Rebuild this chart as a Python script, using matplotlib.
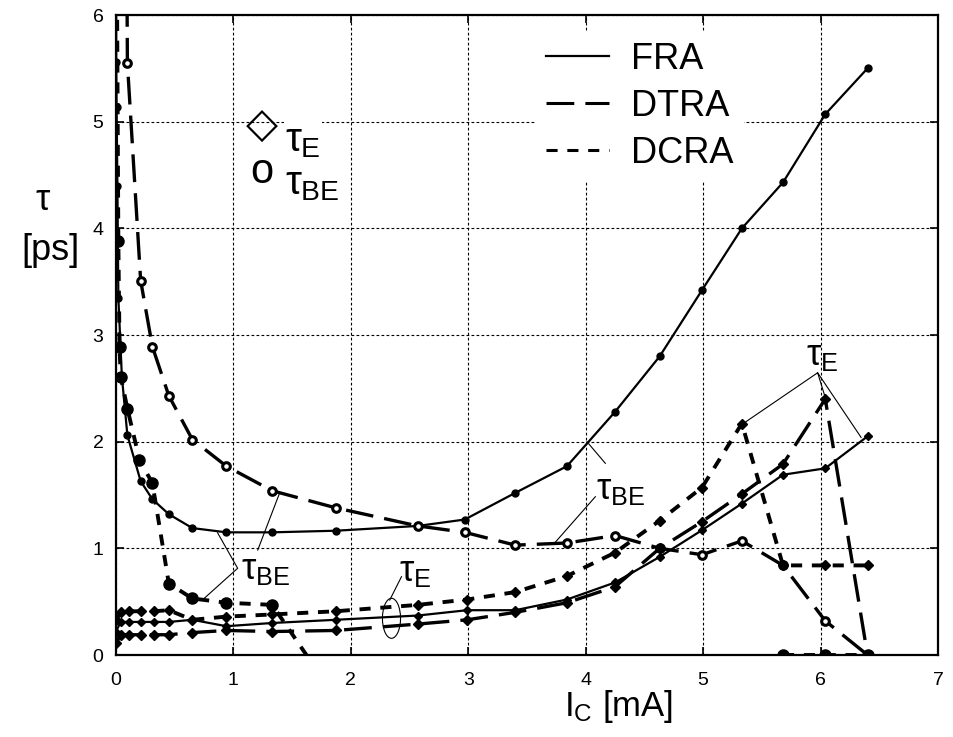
import matplotlib
matplotlib.use('Agg')
import matplotlib.pyplot as plt
import numpy as np
from matplotlib.lines import Line2D
from matplotlib.patches import Ellipse

plt.rcParams['font.family'] = ['Liberation Sans', 'DejaVu Sans']
plt.rcParams['mathtext.fontset'] = 'custom'
plt.rcParams['mathtext.rm'] = 'Liberation Sans'
plt.rcParams['mathtext.it'] = 'Liberation Sans'
plt.rcParams['lines.scale_dashes'] = False

nan = np.nan

# tau_BE [ps] vs I_C [mA]
ic_fra_be = [0.0, 0.002, 0.005, 0.012, 0.02, 0.05, 0.097, 0.21, 0.31, 0.45, 0.65, 0.94, 1.33, 1.87,
             2.57, 2.97, 3.40, 3.84, 4.25, 4.63, 4.99, 5.33, 5.68, 6.04, 6.40]
fra_be = [8.0, 5.56, 5.14, 4.4, 3.35, 2.61, 2.06, 1.63, 1.46, 1.32, 1.19, 1.15, 1.15, 1.165,
          1.21, 1.27, 1.52, 1.77, 2.28, 2.80, 3.42, 4.00, 4.43, 5.07, 5.50]

ic_dtra_be = [0.085, 0.097, 0.21, 0.31, 0.45, 0.65, 0.94, 1.33, 1.87, 2.57, 2.97, 3.40, 3.84,
              4.25, 4.63, 4.99, 5.33, 5.68, 6.04, 6.40]
dtra_be = [8.0, 5.55, 3.51, 2.89, 2.43, 2.02, 1.77, 1.54, 1.38, 1.21, 1.15, 1.03, 1.05,
           1.12, 1.00, 0.94, 1.07, 0.84, 0.32, 0.0]

ic_dcra_be = [0.0, 0.02, 0.03, 0.04, 0.097, 0.2, 0.31, 0.45, 0.65, 0.94, 1.33, 1.87,
              5.33, 5.68, 6.04, 6.40]
dcra_be = [8.0, 3.88, 2.89, 2.61, 2.31, 1.83, 1.61, 0.67, 0.53, 0.49, 0.47, -0.4,
           nan, 0.0, 0.0, 0.0]

# tau_E [ps] vs I_C [mA]
ic_e = [0.0, 0.04, 0.11, 0.21, 0.32, 0.45, 0.65, 0.94, 1.33, 1.87, 2.57, 2.99, 3.40, 3.84,
        4.25, 4.63, 4.99, 5.33, 5.68, 6.04, 6.40]
fra_e = [0.22, 0.31, 0.31, 0.31, 0.31, 0.31, 0.33, 0.27, 0.30, 0.33, 0.37, 0.42, 0.42, 0.52,
         0.68, 0.92, 1.17, 1.42, 1.69, 1.75, 2.05]
dtra_e = [0.11, 0.19, 0.19, 0.19, 0.19, 0.19, 0.21, 0.23, 0.22, 0.23, 0.29, 0.33, 0.40, 0.49,
          0.64, 1.00, 1.25, 1.51, 1.79, 2.40, 0.0]
dcra_e = [0.33, 0.40, 0.41, 0.41, 0.41, 0.42, 0.33, 0.36, 0.38, 0.41, 0.47, 0.52, 0.59, 0.74,
          0.96, 1.26, 1.57, 2.17, 0.84, 0.84, 0.84]

legend_labels = ['FRA', 'DTRA', 'DCRA']

ls_fra = '-'
ls_dtra = (0, (20, 8))
ls_dcra = (0, (8, 7))

fig = plt.figure(figsize=(9.54, 7.37), dpi=100)
ax = fig.add_axes([116 / 954, 82 / 737, 822 / 954, 640 / 737])

# tau_BE curves
ax.plot(ic_fra_be, fra_be, ls=ls_fra, color='k', lw=1.6, marker='o', ms=5)
ax.plot(ic_dtra_be, dtra_be, ls=ls_dtra, color='k', lw=2.4, marker='o', ms=5.5,
        mfc='white', mew=2.2)
ax.plot(ic_dcra_be, dcra_be, ls=ls_dcra, color='k', lw=2.8, marker='o', ms=8)

# tau_E curves
ax.plot(ic_e, fra_e, ls=ls_fra, color='k', lw=1.6, marker='D', ms=4.5)
ax.plot(ic_e, dtra_e, ls=ls_dtra, color='k', lw=2.4, marker='D', ms=5.5)
ax.plot(ic_e, dcra_e, ls=ls_dcra, color='k', lw=2.8, marker='D', ms=5.5)

ax.set_xlim(0, 7)
ax.set_ylim(0, 6)
ax.set_xticks(range(0, 8))
ax.set_yticks(range(0, 7))
ax.set_axisbelow(True)
ax.grid(True, color='k', lw=0.8, ls=(0, (2, 1.6)))
ax.tick_params(direction='in', length=6, width=1.2, top=True, right=True, labelsize=14)
ax.tick_params(axis='x', pad=12)
ax.tick_params(axis='y', pad=9)
for s in ax.spines.values():
    s.set_linewidth(1.6)

ax.set_xlabel(r'I$_{\rm C}$ [mA]', fontsize=25)
ax.xaxis.set_label_coords(0.611, -0.052)
fig.text(43 / 954, 1 - 200 / 737, '\u03c4', fontsize=26, ha='center', va='center')
fig.text(51 / 954, 1 - 251 / 737, '[ps]', fontsize=26, ha='center', va='center')

# legend for methods
handles = [Line2D([], [], color='k', ls=ls_fra, lw=1.6),
           Line2D([], [], color='k', ls=ls_dtra, lw=2.2),
           Line2D([], [], color='k', ls=ls_dcra, lw=2.2)]
leg = ax.legend(handles, legend_labels, loc='upper left', bbox_to_anchor=(0.51, 0.975),
                fontsize=26, frameon=True, framealpha=1, facecolor='white', edgecolor='none',
                handlelength=1.75, handletextpad=0.6, labelspacing=0.33, borderpad=0.3,
                borderaxespad=0, fancybox=False)

# marker key
ax.text(1.238, 4.95, '\u25c7', fontsize=30, ha='center', va='center')
ax.text(1.59, 4.82, r'$\tau_{\rm E}$', fontsize=29, ha='center', va='center',
        bbox=dict(fc='white', ec='none', pad=1))
ax.text(1.238, 4.53, 'o', fontsize=30, ha='center', va='center')
ax.text(1.67, 4.42, r'$\tau_{\rm BE}$', fontsize=29, ha='center', va='center',
        bbox=dict(fc='white', ec='none', pad=1))

# annotations with leader lines
lk = dict(color='k', lw=0.8)
ax.text(1.27, 0.80, r'$\tau_{\rm BE}$', fontsize=26, ha='center', va='center')
ax.plot([0.865, 1.036, 0.751], [1.146, 0.813, 0.531], **lk)
ax.plot([1.207, 1.392], [0.984, 1.515], **lk)

ax.text(4.30, 1.55, r'$\tau_{\rm BE}$', fontsize=26, ha='center', va='center')
ax.plot([4.167, 4.011], [1.797, 1.999], **lk)
ax.plot([4.082, 3.740], [1.484, 1.056], **lk)

ax.text(2.55, 0.78, r'$\tau_{\rm E}$', fontsize=26, ha='center', va='center')
ax.plot([2.431, 2.331], [0.734, 0.515], **lk)
ax.add_patch(Ellipse((2.346, 0.344), 0.154, 0.375, fill=False, **lk))

ax.text(6.01, 2.81, r'$\tau_{\rm E}$', fontsize=26, ha='center', va='center')
ax.plot([5.335, 5.975, 6.038], [2.165, 2.646, 2.421], **lk)
ax.plot([5.975, 6.345], [2.646, 2.040], **lk)

fig.savefig('out.png', dpi=100)
